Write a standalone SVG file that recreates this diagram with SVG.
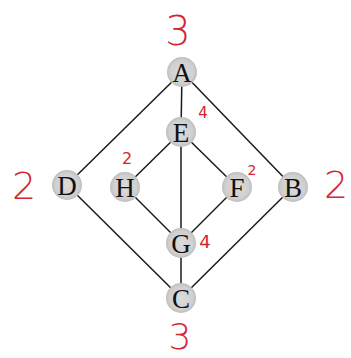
<svg xmlns="http://www.w3.org/2000/svg" width="351" height="358" viewBox="0 0 351 358">
<defs>
<radialGradient id="ng" cx="50%" cy="50%" r="50%">
<stop offset="0%" stop-color="#dcdcdc"/>
<stop offset="80%" stop-color="#cfcfcf"/>
<stop offset="100%" stop-color="#bdbdbd"/>
</radialGradient>
</defs>
<style>
.edge{stroke:#1a1a1a;stroke-width:1.5;fill:none}
.node circle{fill:url(#ng)}
.node text{font-family:"Liberation Serif","Times New Roman",serif;font-size:27px;fill:#111;text-anchor:middle;dominant-baseline:central}
.ann{font-family:"DejaVu Sans","Liberation Sans",sans-serif;fill:#d42530;text-anchor:middle;font-weight:300}
.sm{font-weight:normal}
</style>
<rect width="351" height="358" fill="#ffffff"/>
<g id="connectors">
<line class="edge" x1="182" y1="72" x2="67" y2="185"/>
<line class="edge" x1="182" y1="72" x2="293" y2="187"/>
<line class="edge" x1="67" y1="185" x2="181" y2="298"/>
<line class="edge" x1="293" y1="187" x2="181" y2="298"/>
<line class="edge" x1="182" y1="72" x2="181" y2="132"/>
<line class="edge" x1="181" y1="132" x2="181" y2="243"/>
<line class="edge" x1="181" y1="243" x2="181" y2="298"/>
<line class="edge" x1="181" y1="132" x2="125" y2="187"/>
<line class="edge" x1="181" y1="132" x2="237" y2="187"/>
<line class="edge" x1="125" y1="187" x2="181" y2="243"/>
<line class="edge" x1="237" y1="187" x2="181" y2="243"/>
</g>
<g id="node-A" class="node"><circle cx="182" cy="72" r="15"/><text x="182" y="73">A</text></g>
<g id="node-E" class="node"><circle cx="181" cy="132" r="15"/><text x="181" y="133">E</text></g>
<g id="node-D" class="node"><circle cx="67" cy="185" r="15"/><text x="67" y="186">D</text></g>
<g id="node-H" class="node"><circle cx="125" cy="187" r="15"/><text x="125" y="188">H</text></g>
<g id="node-F" class="node"><circle cx="237" cy="187" r="15"/><text x="237" y="188">F</text></g>
<g id="node-B" class="node"><circle cx="293" cy="187" r="15"/><text x="293" y="188">B</text></g>
<g id="node-G" class="node"><circle cx="181" cy="243" r="15"/><text x="181" y="244">G</text></g>
<g id="node-C" class="node"><circle cx="181" cy="298" r="15"/><text x="181" y="299">C</text></g>
<g id="annotations">
<text class="ann" x="178" y="45" font-size="40">3</text>
<text class="ann sm" x="203" y="118" font-size="15">4</text>
<text class="ann sm" x="127" y="164" font-size="16">2</text>
<text class="ann" x="24" y="199" font-size="38">2</text>
<text class="ann sm" x="252" y="175" font-size="14">2</text>
<text class="ann" x="336" y="198" font-size="38">2</text>
<text class="ann sm" x="205" y="248" font-size="18">4</text>
<text class="ann" x="180" y="349" font-size="36">3</text>
</g>
</svg>
